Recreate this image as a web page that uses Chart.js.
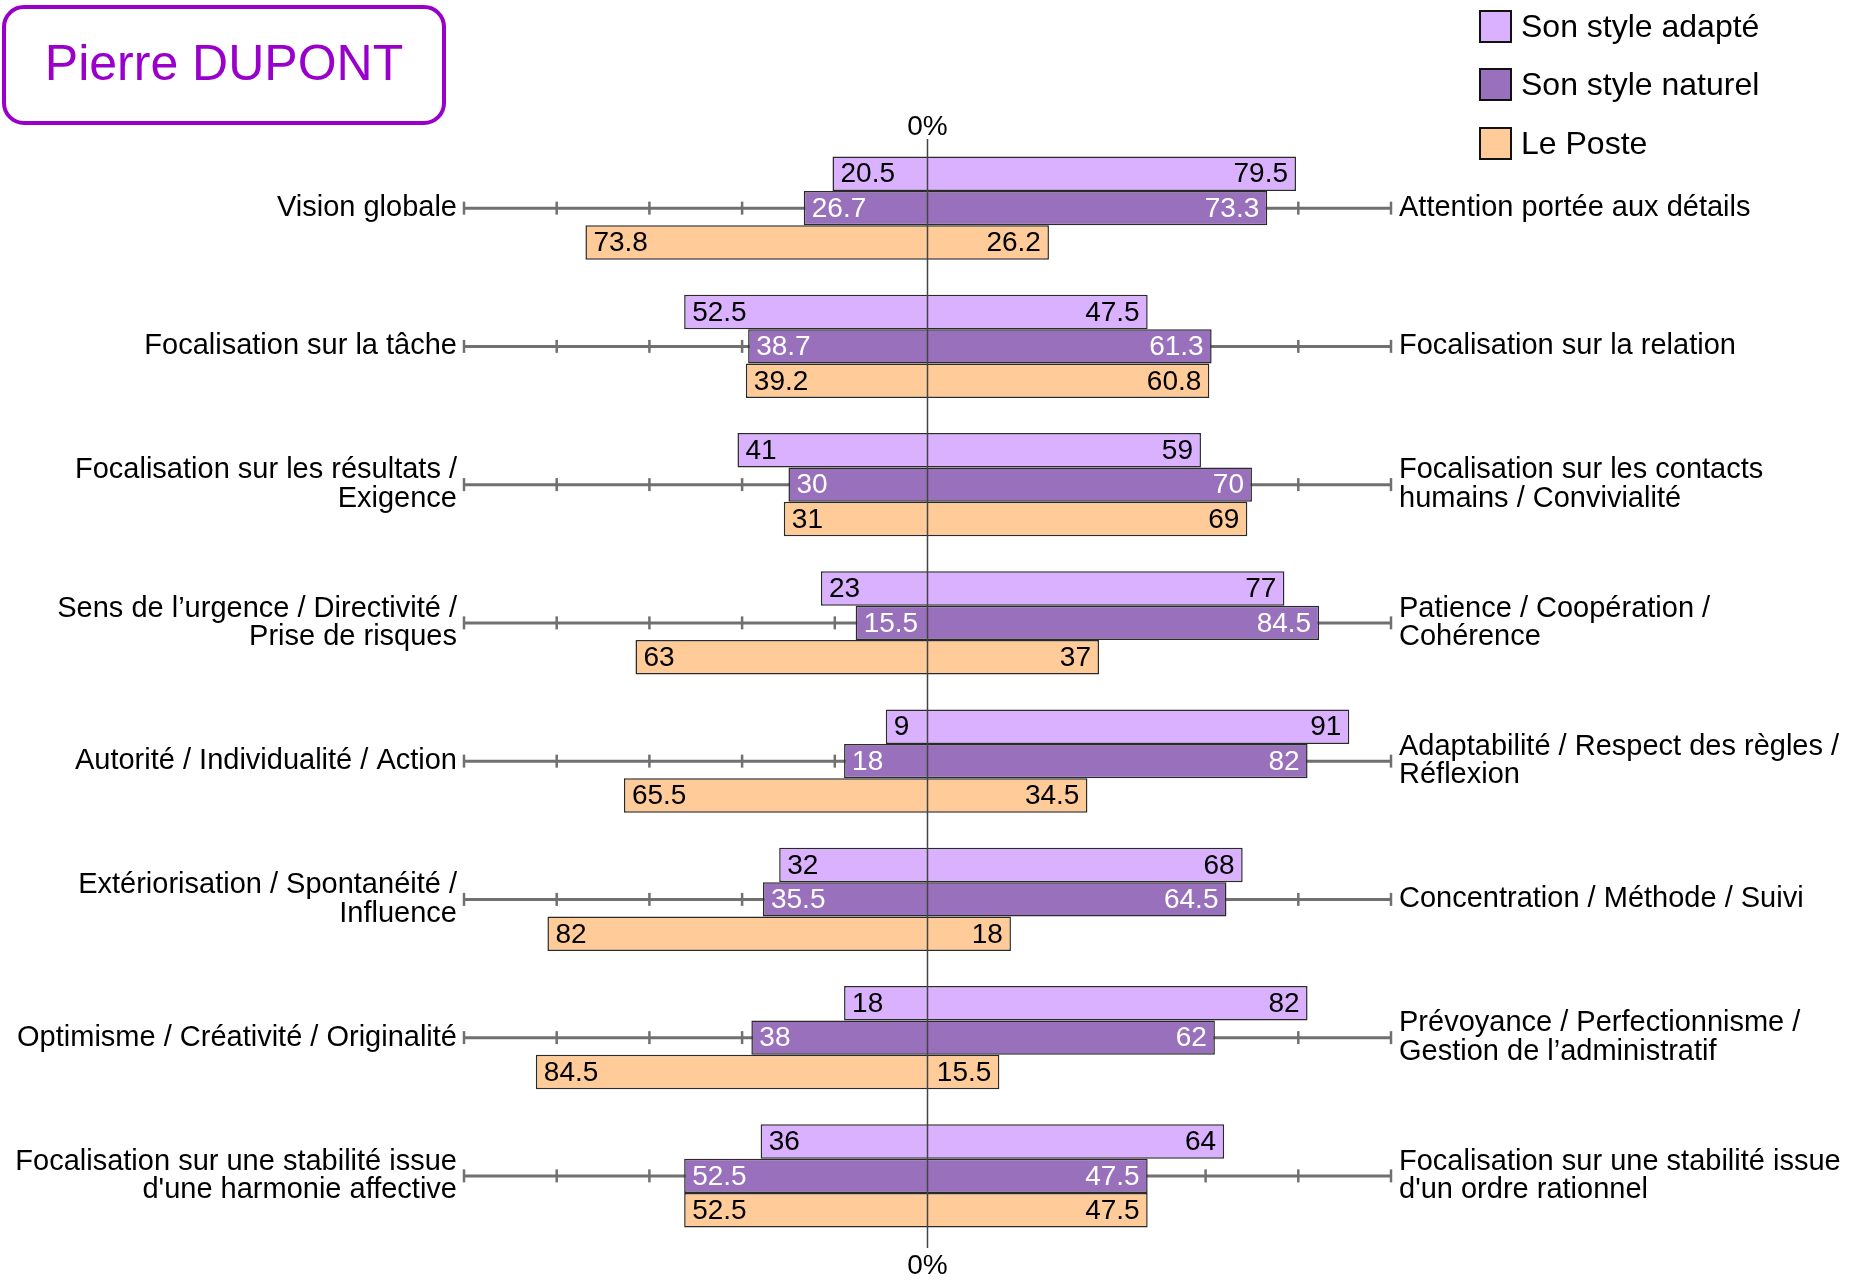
<!DOCTYPE html>
<html lang="fr">
<head>
    <meta charset="UTF-8">
    <title>Pierre DUPONT</title>
    <script src="https://cdn.jsdelivr.net/npm/chart.js@4.4.1/dist/chart.umd.min.js"></script>
    <style>
        body { margin: 0; background: #fff; font-family: "Liberation Sans", Arial, sans-serif; }
        #page { position: relative; width: 1858px; height: 1280px; }
        #chart-box { position: absolute; left: 0; top: 0; width: 1858px; height: 1280px; }
        #nom {
            position: absolute; left: 2px; top: 5px; width: 444px; height: 120px;
            box-sizing: border-box; border: 4px solid #9900cc; border-radius: 22px;
            color: #9900cc; font-size: 50px; line-height: 108px; text-align: center;
        }
        .leg { position: absolute; left: 1479px; height: 34px; display: flex; align-items: center; font-size: 32px; color: #000; }
        .leg span.sq { width: 33px; height: 33px; box-sizing: border-box; border: 2.5px solid #111; margin-right: 9px; }
    </style>
</head>
<body>
<div id="page">
    <div id="chart-box"><canvas id="chart"></canvas></div>
    <div id="nom">Pierre DUPONT</div>
    <div id="legende"></div>
</div>

<script>
// libellés gauche / droite (un par ligne du graphique)
var labelsGauche = [
    "Vision globale",
    "Focalisation sur la tâche",
    ["Focalisation sur les résultats /", "Exigence"],
    ["Sens de l\u2019urgence / Directivité /", "Prise de risques"],
    "Autorité / Individualité / Action",
    ["Extériorisation / Spontanéité /", "Influence"],
    "Optimisme / Créativité / Originalité",
    ["Focalisation sur une stabilité issue", "d'une harmonie affective"]
];
var labelsDroite = [
    "Attention portée aux détails",
    "Focalisation sur la relation",
    ["Focalisation sur les contacts", "humains / Convivialité"],
    ["Patience / Coopération /", "Cohérence"],
    ["Adaptabilité / Respect des règles /", "Réflexion"],
    "Concentration / Méthode / Suivi",
    ["Prévoyance / Perfectionnisme /", "Gestion de l\u2019administratif"],
    ["Focalisation sur une stabilité issue", "d'un ordre rationnel"]
];

// valeurs (partie gauche / partie droite)
var adapteGauche = [20.5, 52.5, 41, 23, 9, 32, 18, 36];
var adapteDroite = [79.5, 47.5, 59, 77, 91, 68, 82, 64];
var naturelGauche = [26.7, 38.7, 30, 15.5, 18, 35.5, 38, 52.5];
var naturelDroite = [73.3, 61.3, 70, 84.5, 82, 64.5, 62, 47.5];
var posteGauche = [73.8, 39.2, 31, 63, 65.5, 82, 84.5, 52.5];
var posteDroite = [26.2, 60.8, 69, 37, 34.5, 18, 15.5, 47.5];

// graduations sur la ligne de chaque critère
var graduations = [-100, -80, -60, -40, -20, 20, 40, 60, 80, 100];

var series = [
    { nom: "Son style adapté", gauche: adapteGauche, droite: adapteDroite, couleur: "#d9b1ff", texte: "#000" },
    { nom: "Son style naturel", gauche: naturelGauche, droite: naturelDroite, couleur: "#9970bb", texte: "#fff" },
    { nom: "Le Poste", gauche: posteGauche, droite: posteDroite, couleur: "#ffcb98", texte: "#000" }
];

var police = "'Liberation Sans', Arial, sans-serif";

// légende en html
var legende = document.getElementById("legende");
series.forEach(function(s, i) {
    var d = document.createElement("div");
    d.className = "leg";
    d.style.top = (9 + i * 58.5) + "px";
    d.innerHTML = '<span class="sq" style="background:' + s.couleur + '"></span>' + s.nom;
    legende.appendChild(d);
});

// lignes grises + graduations derrière les barres
var lignesCriteres = {
    id: "lignesCriteres",
    beforeDatasetsDraw: function(chart) {
        var ctx = chart.ctx, x = chart.scales.x, y = chart.scales.y;
        ctx.save();
        ctx.strokeStyle = "#707070";
        labelsGauche.forEach(function(l, i) {
            var cy = y.getPixelForValue(i);
            ctx.lineWidth = 3;
            ctx.beginPath();
            ctx.moveTo(x.getPixelForValue(-100), cy);
            ctx.lineTo(x.getPixelForValue(100), cy);
            ctx.stroke();
            ctx.lineWidth = 2.5;
            graduations.forEach(function(g) {
                var gx = x.getPixelForValue(g);
                ctx.beginPath();
                ctx.moveTo(gx, cy - 6.5);
                ctx.lineTo(gx, cy + 6.5);
                ctx.stroke();
            });
        });
        ctx.restore();
    }
};

// axe central, 0% et valeurs dans les barres
var valeurs = {
    id: "valeurs",
    afterDatasetsDraw: function(chart) {
        var ctx = chart.ctx, area = chart.chartArea, x0 = chart.scales.x.getPixelForValue(0);
        ctx.save();
        ctx.strokeStyle = "#444";
        ctx.lineWidth = 1.5;
        ctx.beginPath();
        ctx.moveTo(x0, area.top);
        ctx.lineTo(x0, area.bottom + 3);
        ctx.stroke();

        ctx.fillStyle = "#000";
        ctx.font = "28px " + police;
        ctx.textAlign = "center";
        ctx.textBaseline = "middle";
        ctx.fillText("0%", x0, area.top - 12);
        ctx.fillText("0%", x0, area.bottom + 21);

        chart.data.datasets.forEach(function(ds, di) {
            var meta = chart.getDatasetMeta(di);
            var s = series[di];
            meta.data.forEach(function(bar, i) {
                var gauche = Math.min(bar.x, bar.base), droite = Math.max(bar.x, bar.base);
                ctx.fillStyle = s.texte;
                ctx.textAlign = "left";
                ctx.fillText(String(s.gauche[i]), gauche + 8, bar.y + 1);
                ctx.textAlign = "right";
                ctx.fillText(String(s.droite[i]), droite - 8, bar.y + 1);
            });
        });
        ctx.restore();
    }
};

var datasets = series.map(function(s) {
    return {
        label: s.nom,
        data: s.gauche.map(function(v, i) { return [-v, s.droite[i]]; }),
        backgroundColor: s.couleur,
        borderColor: "#2a2a2a",
        borderWidth: 1.5,
        borderSkipped: false,
        categoryPercentage: 0.747,
        barPercentage: 1.0
    };
});

var styleTicks = { color: "#000", font: { family: police, size: 29, lineHeight: 0.98 }, autoSkip: false };
var sansGrille = { display: false, drawTicks: false, tickLength: 0 };

new Chart(document.getElementById("chart"), {
    type: "bar",
    data: { labels: labelsGauche, datasets: datasets },
    options: {
        indexAxis: "y",
        responsive: true,
        maintainAspectRatio: false,
        animation: false,
        layout: { padding: { top: 139, bottom: 35, left: 0, right: 0 } },
        plugins: {
            legend: { display: false },
            tooltip: { enabled: false }
        },
        scales: {
            x: { type: "linear", min: -100, max: 100, display: false },
            y: {
                type: "category", position: "left", offset: true,
                grid: sansGrille, border: { display: false },
                ticks: Object.assign({ padding: 7 }, styleTicks),
                afterFit: function(axis) { axis.width = 464; }
            },
            y2: {
                type: "category", position: "right", offset: true, labels: labelsDroite,
                grid: sansGrille, border: { display: false },
                ticks: Object.assign({ padding: 8 }, styleTicks),
                afterFit: function(axis) { axis.width = 467; }
            }
        }
    },
    plugins: [lignesCriteres, valeurs]
});
</script>
</body>
</html>
